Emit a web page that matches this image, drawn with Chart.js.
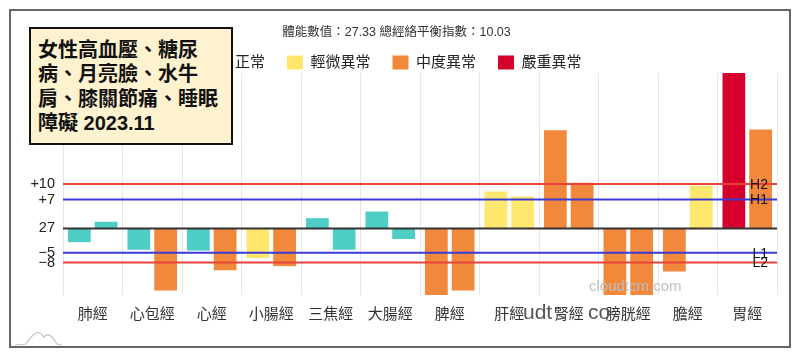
<!DOCTYPE html>
<html><head><meta charset="utf-8">
<script src="https://cdn.jsdelivr.net/npm/chart.js@4/dist/chart.umd.min.js"></script>
<style>
html,body{margin:0;padding:0;background:#fff;}
#wrap{position:relative;width:800px;height:359px;overflow:hidden;background:#fff;}
#frame{position:absolute;left:9px;top:9px;width:782px;height:339px;box-sizing:border-box;border:2px solid #666;}
#c{position:absolute;left:0;top:0;}
#note{position:absolute;left:29px;top:27px;width:204px;height:118px;box-sizing:border-box;border:2px solid #111;background:#fff2cf;padding:9px 0 0 7px;font:bold 20px/24.3px 'Liberation Sans','Noto Sans CJK TC',sans-serif;color:#111;white-space:nowrap;}
.wm{position:absolute;font-family:'Liberation Sans',sans-serif;white-space:nowrap;}
#logo{position:absolute;left:0;top:0;}
</style></head>
<body>
<div id="wrap">
<div id="frame"></div>
<canvas id="c" width="800" height="359"></canvas>
<div class="wm" style="left:589px;top:277px;font-size:15px;color:#b9c0c6;">cloudtcm.com</div>
<div class="wm" style="left:523px;top:300px;font-size:21px;color:#555;">udt</div>
<div class="wm" style="left:588px;top:300px;font-size:21px;color:#555;">co</div>
<svg id="logo" width="800" height="359"><path d="M15 345 L26 344 Q31 336 36 333 Q40 331 44 337 Q48 333 52 337 L57 344 L62 345" fill="none" stroke="#c4c4c4" stroke-width="1.2"/></svg>
<div id="note">女性高血壓、糖尿<br>病、月亮臉、水牛<br>肩、膝關節痛、睡眠<br>障礙 2023.11</div>
</div>
<script>
const categories = ['肺經','心包經','心經','小腸經','三焦經','大腸經','脾經','肝經','腎經','膀胱經','膽經','胃經'];
const valuesA = [-3.1, -4.8, -5.0, -6.7, 2.3, 3.8, -15, 8.3, 22.1, -15, -9.7, 35];
const valuesB = [1.5, -14.0, -9.4, -8.5, -4.8, -2.4, -14.0, 7.2, 10.3, -15, 9.6, 22.3];
const levelsA = [0, 0, 0, 1, 0, 0, 2, 1, 2, 2, 2, 3];
const levelsB = [0, 2, 2, 2, 0, 0, 2, 1, 2, 2, 1, 2];
const levelNames = ['正常','輕微異常','中度異常','嚴重異常'];
const levelColors = ['#4ecdc4','#ffe66d','#f2883b','#d7002c'];
const refValues = [10, 6.5, -5.5, -7.7];
const refNames = ['H2','H1','L1','L2'];
const refColors = ['#e8423a','#3a3ad6','#3a3ad6','#e8423a'];
const tickValues = [10, 6.5, 0, -5.5, -7.7];
const tickLabels = ['+10','+7','27','−5','−8'];
const titleText = '體能數值：27.33 總經絡平衡指數：10.03';

const FONT = "'Liberation Sans','Noto Sans CJK TC',sans-serif";

const refLines = {
  id: 'refLines',
  afterDatasetsDraw(chart) {
    const {ctx, chartArea: a, scales: {y}} = chart;
    ctx.save();
    const z = y.getPixelForValue(0);
    ctx.strokeStyle = '#333'; ctx.lineWidth = 2;
    ctx.beginPath(); ctx.moveTo(a.left, z); ctx.lineTo(a.right, z); ctx.stroke();
    refValues.forEach((v, i) => {
      const p = y.getPixelForValue(v);
      ctx.strokeStyle = refColors[i]; ctx.lineWidth = 2;
      ctx.beginPath(); ctx.moveTo(a.left, p); ctx.lineTo(a.right, p); ctx.stroke();
    });
    ctx.fillStyle = '#111';
    ctx.font = '14px ' + FONT;
    ctx.textAlign = 'right'; ctx.textBaseline = 'middle';
    refValues.forEach((v, i) => {
      ctx.fillText(refNames[i], a.right - 9, y.getPixelForValue(v) + 1);
    });
    ctx.restore();
  }
};

new Chart(document.getElementById('c'), {
  type: 'bar',
  data: {
    labels: categories,
    datasets: [
      {data: valuesA, backgroundColor: levelsA.map(l => levelColors[l]), categoryPercentage: 0.9, barPercentage: 0.85},
      {data: valuesB, backgroundColor: levelsB.map(l => levelColors[l]), categoryPercentage: 0.9, barPercentage: 0.85}
    ]
  },
  options: {
    responsive: false,
    animation: false,
    devicePixelRatio: 1,
    layout: {padding: {left: 16, right: 23, top: 25, bottom: 20}},
    plugins: {
      tooltip: {enabled: false},
      title: {display: true, text: titleText, color: '#333', font: {family: FONT, size: 12.5, weight: 'normal'}, padding: {top: 0, bottom: -7}},
      legend: {
        display: true,
        maxHeight: 40,
        onClick: null,
        labels: {
          color: '#222',
          font: {family: FONT, size: 15},
          boxWidth: 16, boxHeight: 14, padding: 22,
          useBorderRadius: true, borderRadius: 2,
          generateLabels: () => levelNames.map((n, i) => ({text: n, fillStyle: levelColors[i], strokeStyle: levelColors[i], lineWidth: 0, hidden: false, fontColor: '#222'}))
        }
      }
    },
    scales: {
      x: {
        grid: {display: true, color: '#e6e6e6', drawTicks: false, offset: true},
        border: {display: false},
        ticks: {color: '#333', font: {family: FONT, size: 15}, padding: 11, maxRotation: 0, autoSkip: false},
        afterFit: s => { s.height = 44; }
      },
      y: {
        min: -15, max: 35,
        grid: {display: false},
        border: {display: false},
        afterBuildTicks: s => { s.ticks = tickValues.map(v => ({value: v})); },
        ticks: {
          autoSkip: false, padding: 0, color: '#222',
          font: {family: FONT, size: 14.5},
          callback: (v, i) => tickLabels[i]
        },
        afterFit: s => { s.width = 47; }
      }
    }
  },
  plugins: [refLines]
});
</script>
</body></html>
